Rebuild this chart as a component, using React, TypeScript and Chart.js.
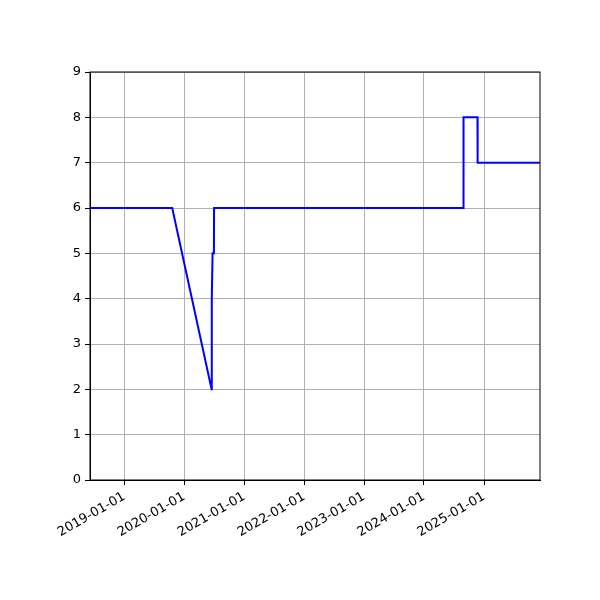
import React, { useEffect, useRef } from 'react';
import { Chart, registerables } from 'chart.js';

Chart.register(...registerables);

// step dates and values
const dates = [
  '2018-06-06', '2019-10-20', '2020-06-16', '2020-06-17', '2020-06-22', '2020-06-30',
  '2020-07-01', '2024-08-28', '2024-08-29', '2024-11-22', '2024-11-23', '2025-12-08',
];
const values = [6, 6, 2, 4, 5, 5, 6, 6, 8, 8, 7, 7];
const tickLabels = ['2019-01-01', '2020-01-01', '2021-01-01', '2022-01-01', '2023-01-01', '2024-01-01', '2025-01-01'];

const toMs = (d: string) => Date.parse(d + 'T00:00:00Z');

const spines = {
  id: 'spines',
  afterDraw(chart: any) {
    const { ctx, chartArea } = chart;
    ctx.save();
    ctx.strokeStyle = '#000';
    ctx.lineWidth = 1;
    ctx.strokeRect(chartArea.left, chartArea.top, chartArea.right - chartArea.left, chartArea.bottom - chartArea.top);
    ctx.restore();
  },
};

const App: React.FC = () => {
  const chartRef = useRef<HTMLCanvasElement>(null);

  useEffect(() => {
    if (!chartRef.current) return;
    const font = { family: 'DejaVu Sans', size: 13 };
    const chart = new Chart(chartRef.current, {
      type: 'line',
      data: {
        datasets: [{
          data: dates.map((d, i) => ({ x: toMs(d), y: values[i] })),
          borderColor: '#0000ff',
          borderWidth: 2,
          pointRadius: 0,
          tension: 0,
          fill: false,
        }],
      },
      options: {
        animation: false,
        responsive: false,
        layout: { padding: { top: 72, right: 60, left: 0, bottom: 0 } },
        plugins: { legend: { display: false }, tooltip: { enabled: false } },
        scales: {
          x: {
            type: 'linear',
            min: toMs(dates[0]),
            max: toMs(dates[dates.length - 1]),
            afterBuildTicks: (scale: any) => {
              scale.ticks = tickLabels.map(t => ({ value: toMs(t) }));
            },
            afterFit: (scale: any) => { scale.height = 120; },
            ticks: {
              callback: (v: any) => new Date(v).toISOString().slice(0, 10),
              minRotation: 30,
              maxRotation: 30,
              color: '#000',
              font,
              padding: 4,
            },
            grid: { color: '#b0b0b0', lineWidth: 1, tickColor: '#000', tickLength: 5 },
            border: { color: '#000', width: 1 },
          },
          y: {
            min: 0,
            max: 9,
            afterFit: (scale: any) => { scale.width = 90; },
            ticks: { stepSize: 1, color: '#000', font, padding: 4 },
            grid: { color: '#b0b0b0', lineWidth: 1, tickColor: '#000', tickLength: 5 },
            border: { color: '#000', width: 1 },
          },
        },
      },
      plugins: [spines],
    });
    return () => chart.destroy();
  }, []);

  return (
    <div style={{ position: 'absolute', left: 0, top: 0, width: 600, height: 600, background: '#fff' }}>
      <canvas ref={chartRef} width={600} height={600} />
    </div>
  );
};

export default App;
